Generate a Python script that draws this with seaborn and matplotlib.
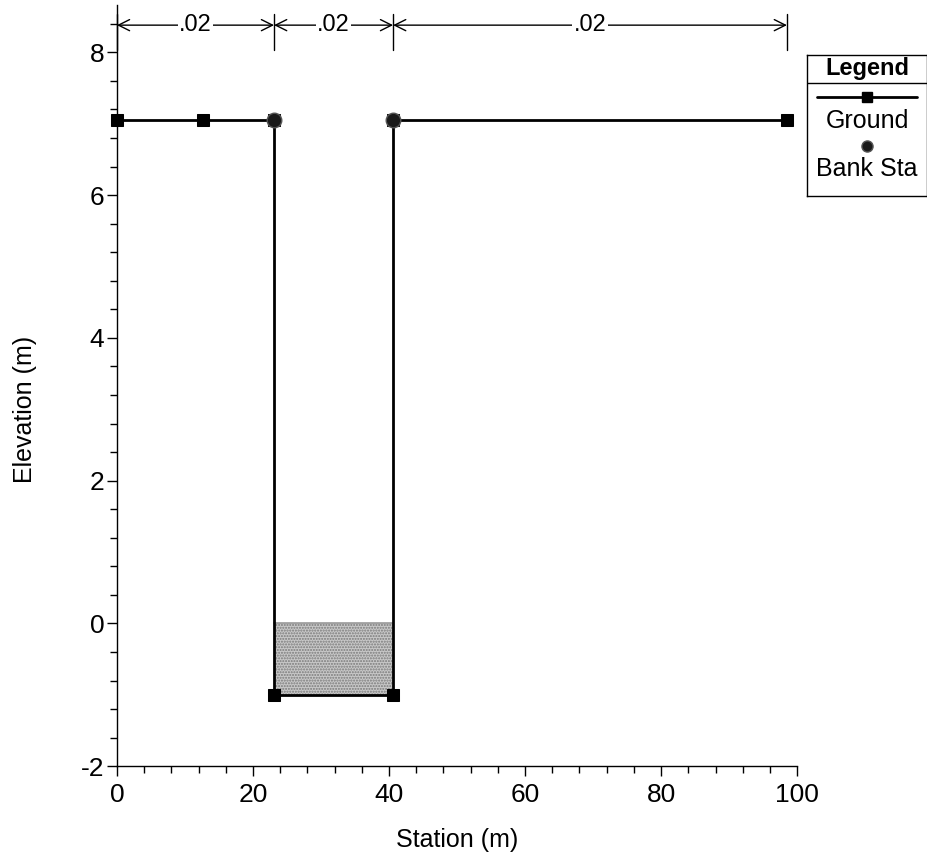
import matplotlib
matplotlib.use("Agg")
import matplotlib.pyplot as plt
import seaborn as sns
import pandas as pd
from matplotlib.ticker import MultipleLocator
from matplotlib.lines import Line2D

sns.set_theme(style="white")
plt.rcParams['font.family'] = ['Liberation Sans', 'DejaVu Sans']
plt.rcParams['axes.unicode_minus'] = False
plt.rcParams['text.color'] = 'black'
plt.rcParams['axes.labelcolor'] = 'black'
plt.rcParams['xtick.color'] = 'black'
plt.rcParams['ytick.color'] = 'black'

# Data
ground_station = [0.0, 12.6, 23.1, 23.1, 40.6, 40.6, 98.5]
ground_elev = [7.05, 7.05, 7.05, -1.0, -1.0, 7.05, 7.05]
bank_station = [23.1, 40.6]
bank_elev = [7.05, 7.05]
water_elev = 0.0
bed_elev = -1.0
n_breaks = [0.0, 23.1, 40.6, 98.5]
n_values = [".02", ".02", ".02"]

ground = pd.DataFrame({"Station": ground_station, "Elevation": ground_elev})
bank = pd.DataFrame({"Station": bank_station, "Elevation": bank_elev})

W, H = 928, 859
fig = plt.figure(figsize=(W / 100, H / 100), dpi=100)
ax = fig.add_axes([0.126, 0.108, 0.733, 0.886])

# water fill
ax.fill_between([bank_station[0], bank_station[1]], [bed_elev, bed_elev],
                [water_elev, water_elev], facecolor="#c8c8c8", hatch="......",
                edgecolor="#7a7a7a", linewidth=0, zorder=1)
ax.plot([bank_station[0], bank_station[1]], [water_elev, water_elev],
        color="#999999", lw=1.2, zorder=2)

sns.lineplot(data=ground, x="Station", y="Elevation", sort=False, estimator=None,
             color="black", lw=2, marker="s", markersize=8, markeredgecolor="black",
             ax=ax, zorder=3, legend=False, clip_on=False)
sns.scatterplot(data=bank, x="Station", y="Elevation", marker="o", s=110,
                color="#1a1a1a", edgecolor="#555555", linewidth=1, ax=ax, zorder=4,
                legend=False, clip_on=False)

ax.set_xlim(0, 100)
ax.set_ylim(-2, 8.66)
ax.xaxis.set_major_locator(MultipleLocator(20))
ax.xaxis.set_minor_locator(MultipleLocator(4))
ax.yaxis.set_major_locator(MultipleLocator(2))
ax.yaxis.set_minor_locator(MultipleLocator(0.4))
ax.tick_params(axis="both", which="major", direction="out", length=7, width=1,
               color="black", labelsize=19, pad=2, bottom=True, left=True)
ax.tick_params(axis="x", which="major", pad=5)
ax.tick_params(axis="both", which="minor", direction="out", length=5, width=1,
               color="black", bottom=True, left=True)
for s in ["top", "right"]:
    ax.spines[s].set_visible(False)
for s in ["left", "bottom"]:
    ax.spines[s].set_color("black")
    ax.spines[s].set_linewidth(1)
ax.set_xlabel("Station (m)", fontsize=18, labelpad=15)
ax.set_ylabel("Elevation (m)", fontsize=18)
ax.yaxis.set_label_coords(-0.117, 0.469)

# Manning's n annotations
for xb in n_breaks:
    ax.plot([xb, xb], [8.03, 8.53], color="black", lw=1, clip_on=False)
for i, val in enumerate(n_values):
    x0, x1 = n_breaks[i], n_breaks[i + 1]
    ax.annotate("", xy=(x0, 8.38), xytext=(x1, 8.38),
                arrowprops=dict(arrowstyle="<->", color="black", lw=1,
                                shrinkA=0, shrinkB=0, mutation_scale=20),
                annotation_clip=False)
    ax.text((x0 + x1) / 2, 8.38, val, ha="center", va="center", fontsize=17,
            bbox=dict(facecolor="white", edgecolor="none", pad=1))

# Legend box (pixel layout: top 55, bottom 196)
top, bot = 55, 196
hh = bot - top
def ly(p):
    return 1 - (p - top) / hh

lax = fig.add_axes([807 / W, 1 - bot / H, 120 / W, hh / H])
lax.set_xlim(0, 1)
lax.set_ylim(0, 1)
lax.set_xticks([])
lax.set_yticks([])
for s in lax.spines.values():
    s.set_color("black")
    s.set_linewidth(1)
lax.axhline(ly(83), color="black", lw=1)
lax.text(0.5, ly(68), "Legend", ha="center", va="center",
         fontsize=17, fontweight="bold")
lax.add_line(Line2D([0.08, 0.92], [ly(97)] * 2, color="black", lw=2))
lax.add_line(Line2D([0.5], [ly(97)], marker="s", markersize=7,
                    color="black"))
lax.text(0.5, ly(121), "Ground", ha="center", va="center", fontsize=18)
lax.add_line(Line2D([0.5], [ly(146)], marker="o", markersize=8,
                    color="#1a1a1a", markeredgecolor="#555555"))
lax.text(0.5, ly(169), "Bank Sta", ha="center", va="center", fontsize=18)

fig.savefig("out.png", dpi=100)
